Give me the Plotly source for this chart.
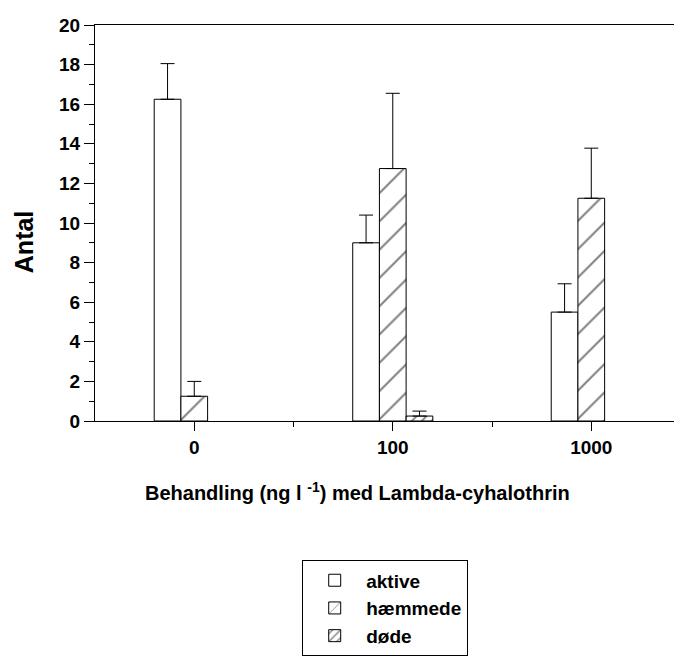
import plotly.graph_objects as go

categories = ["0", "100", "1000"]
series_names = ["aktive", "hæmmede", "døde"]
aktive = [16.25, 9.0, 5.5]
aktive_err = [1.8, 1.4, 1.43]
haemmede = [1.25, 12.75, 11.25]
haemmede_err = [0.75, 3.8, 2.53]
doede = [None, 0.25, None]
doede_err = [0, 0.25, 0]
yticks = [0, 2, 4, 6, 8, 10, 12, 14, 16, 18, 20]

xpos = list(range(len(categories)))
FONT = "Liberation Sans"

def err(vals):
    return dict(type="data", array=vals, arrayminus=[0] * len(vals), symmetric=False,
                color="black", thickness=1, width=7)

fig = go.Figure()
fig.add_trace(go.Bar(x=xpos, y=aktive, name=series_names[0], error_y=err(aktive_err),
                     marker=dict(color="white", line=dict(color="black", width=1))))
fig.add_trace(go.Bar(x=xpos, y=haemmede, name=series_names[1], error_y=err(haemmede_err),
                     marker=dict(color="white", line=dict(color="black", width=1),
                                 pattern=dict(shape="/", size=20, solidity=0.1,
                                              fgcolor="black", bgcolor="white"))))
fig.add_trace(go.Bar(x=xpos, y=doede, name=series_names[2], error_y=err(doede_err),
                     marker=dict(color="white", line=dict(color="black", width=1),
                                 pattern=dict(shape="/", size=7, solidity=0.25,
                                              fgcolor="black", bgcolor="white"))))

# body has an 8px default margin in the page; the figure is offset accordingly
fig.update_layout(
    width=674, height=649,
    margin=dict(l=87, r=0, t=17, b=226),
    paper_bgcolor="white", plot_bgcolor="white",
    barmode="group", bargap=0.5965, bargroupgap=0,
    font=dict(family=FONT, color="black"),
    showlegend=True,
    legend=dict(x=0.353, y=-0.352, xanchor="left", yanchor="top",
                bordercolor="black", borderwidth=1, bgcolor="white",
                font=dict(family=FONT, size=19, weight="bold"),
                traceorder="normal", itemwidth=53),
    xaxis=dict(range=[-0.5, 2.457], tickvals=xpos, ticktext=categories,
               showline=True, linecolor="black", linewidth=1, mirror=True,
               ticks="outside", ticklen=9, tickcolor="black", showgrid=False, zeroline=False,
               tickfont=dict(family=FONT, size=19, weight="bold"),
               minor=dict(tickvals=[0.5, 1.5], ticks="outside", ticklen=5, tickcolor="black")),
    yaxis=dict(range=[0, 20], tickvals=yticks,
               showline=True, linecolor="black", linewidth=1,
               ticks="outside", ticklen=10, tickcolor="black", showgrid=False, zeroline=False,
               tickfont=dict(family=FONT, size=19, weight="bold"),
               minor=dict(dtick=1, tick0=0, ticks="outside", ticklen=5, tickcolor="black")),
    annotations=[
        dict(text="Behandling (ng l <sup>-1</sup>) med Lambda-cyhalothrin", xref="paper", yref="paper",
             x=0.447, y=-0.178, xanchor="center", yanchor="middle", showarrow=False,
             font=dict(family=FONT, size=20, weight="bold")),
        dict(text="Antal", xref="paper", yref="paper", x=-0.121, y=0.454, textangle=-90,
             xanchor="center", yanchor="middle", showarrow=False,
             font=dict(family=FONT, size=25, weight="bold")),
    ],
)

fig.write_html("out.html")
